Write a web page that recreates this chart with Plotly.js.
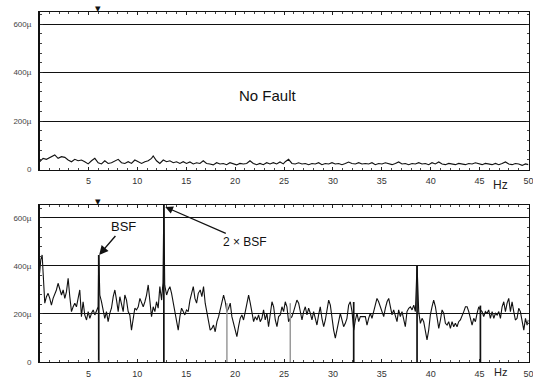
<!DOCTYPE html>
<html>
<head>
<meta charset="utf-8">
<script src="https://cdn.plot.ly/plotly-3.0.1.min.js"></script>
<style>html,body{margin:0;padding:0;background:#fff;}#chart{width:533px;height:379px;}</style>
</head>
<body>
<div id="chart"></div>
<script>
// ---- Tick labels ----
const xTickVals = [5,10,15,20,25,30,35,40,45,50];
const xTickText = ['5','10','15','20','25','30','35','40','45','50'];
const yTickVals = [0,200,400,600];
const yTickText = ['0','200µ','400µ','600µ'];

// ---- Top panel: "No Fault" spectrum (Hz, amplitude in µ) ----
const topHz = [0.00,0.36,0.70,1.21,1.55,1.89,2.24,2.58,2.92,3.26,3.60,3.94,4.28,4.62,4.97,5.31,5.65,5.99,6.33,6.67,7.01,7.35,7.70,8.04,8.38,8.72,9.06,9.40,9.74,10.09,10.43,10.77,11.11,11.45,11.62,11.96,12.30,12.65,12.99,13.33,13.67,14.01,14.35,14.69,15.03,15.38,15.72,16.06,16.40,16.74,17.08,17.42,17.76,18.11,18.45,18.79,19.13,19.47,19.81,20.15,20.49,20.84,21.18,21.52,21.86,22.20,22.54,22.88,23.23,23.57,23.91,24.25,24.59,24.93,25.13,25.47,25.81,26.15,26.49,26.84,27.18,27.52,27.86,28.20,28.54,28.88,29.22,29.57,29.91,30.25,30.59,30.93,31.27,31.61,31.95,32.30,32.64,32.98,33.32,33.66,34.00,34.34,34.68,35.02,35.37,35.71,36.05,36.39,36.73,37.07,37.41,37.75,38.10,38.44,38.78,39.12,39.46,39.80,40.14,40.48,40.83,41.17,41.51,41.85,42.19,42.53,42.87,43.21,43.55,43.90,44.24,44.58,44.92,45.26,45.60,45.94,46.28,46.63,46.97,47.31,47.65,47.99,48.33,48.67,49.01,49.36,49.70,50.00];
const topAmp = [32,46,42,53,60,46,53,50,39,32,42,36,39,32,23,36,46,28,23,36,25,28,36,42,28,25,32,25,39,32,25,32,36,46,56,36,25,39,32,36,28,32,25,32,25,31,23,28,25,36,25,23,19,28,23,25,20,28,23,19,25,23,25,36,25,20,25,20,28,23,28,23,31,23,32,42,25,23,28,23,25,20,25,23,28,20,25,23,28,23,25,20,25,31,25,23,28,23,25,23,28,20,25,23,28,23,20,25,31,23,25,20,25,23,28,23,25,20,28,23,31,23,20,25,23,20,25,23,20,25,23,28,23,20,25,23,20,25,20,25,31,23,20,25,23,17,23,20];

// ---- Bottom panel: faulty bearing spectrum (Hz, amplitude in µ) ----
const botHz = [0.00,0.12,0.26,0.36,0.53,0.70,0.87,1.04,1.21,1.38,1.55,1.72,1.89,2.06,2.24,2.41,2.58,2.75,2.92,3.09,3.26,3.43,3.60,3.77,3.94,4.11,4.28,4.45,4.62,4.80,4.97,5.14,5.31,5.48,5.65,5.82,5.99,6.05,6.16,6.33,6.50,6.67,6.84,7.01,7.18,7.35,7.53,7.70,7.87,8.04,8.21,8.38,8.55,8.72,8.89,9.06,9.23,9.40,9.57,9.74,9.91,10.09,10.26,10.43,10.60,10.77,10.94,11.11,11.28,11.45,11.62,11.79,11.96,12.13,12.30,12.48,12.62,12.71,12.80,12.99,13.16,13.33,13.50,13.67,13.84,14.01,14.18,14.35,14.52,14.69,14.86,15.03,15.20,15.38,15.55,15.72,15.89,16.06,16.23,
16.43,16.60,16.77,16.94,17.11,17.28,17.45,17.62,17.79,17.96,18.14,18.31,18.48,18.65,18.82,18.99,19.16,19.33,19.50,19.67,19.84,20.01,20.18,20.35,20.52,20.69,20.86,21.04,21.21,21.38,21.55,21.72,21.89,22.06,22.23,22.40,22.57,22.74,22.91,23.08,23.25,23.42,23.60,23.77,23.94,24.11,24.28,24.45,24.62,24.79,24.96,25.13,25.30,25.47,25.64,25.81,25.98,26.15,26.32,26.50,26.67,26.84,27.01,27.18,27.35,27.52,27.69,27.86,28.03,28.20,28.37,28.54,28.71,28.88,29.06,29.23,29.40,29.57,29.74,29.91,30.08,30.25,30.42,30.59,30.76,30.93,31.10,31.27,31.44,31.61,31.78,31.96,32.13,32.30,32.47,32.64,32.81,
33.32,33.49,33.66,33.83,34.00,34.17,34.34,34.51,34.68,34.86,35.03,35.20,35.37,35.54,35.71,35.88,36.05,36.22,36.39,36.56,36.73,36.90,37.07,37.24,37.41,37.58,37.76,37.93,38.10,38.27,38.44,38.61,38.78,38.95,39.12,39.29,39.46,39.63,39.80,39.97,40.14,40.31,40.49,40.66,40.83,41.00,41.17,41.34,41.51,41.68,41.85,42.02,42.19,42.36,42.53,42.70,42.87,43.04,43.21,43.39,43.56,43.73,43.90,44.07,44.24,44.41,44.58,44.75,44.92,45.09,45.26,45.43,45.60,45.77,45.94,46.11,46.29,46.46,46.63,46.80,46.97,47.14,47.31,47.48,47.65,47.82,47.99,48.16,48.33,48.50,48.67,48.84,49.01,49.18,49.36,49.53,49.70,49.87,50.00];
const botAmp = [370,425,446,355,245,272,286,265,237,265,280,300,328,300,279,300,265,293,349,272,210,230,245,230,265,300,189,251,196,175,210,182,203,217,196,210,230,446,279,251,210,182,210,168,203,224,272,300,258,210,272,245,210,279,258,210,196,133,189,224,217,230,265,251,230,251,279,321,258,189,230,210,251,224,314,258,330,655,320,279,300,314,286,245,210,168,133,189,224,210,196,217,210,258,293,314,265,245,286,
300,272,314,245,203,168,133,140,154,126,168,189,224,251,279,251,210,224,245,189,161,133,106,147,182,196,175,210,251,279,245,196,168,189,175,196,168,182,217,175,203,147,210,251,230,175,147,189,196,230,210,251,230,168,182,189,210,237,258,245,210,175,210,230,196,224,203,175,210,175,154,196,230,182,147,175,217,258,237,175,133,99,133,175,203,175,147,161,182,237,251,210,133,175,203,168,189,
189,154,182,203,182,210,230,265,251,230,210,189,224,251,265,230,196,217,189,168,217,189,210,175,147,210,224,230,217,237,210,404,210,161,182,168,126,92,133,196,230,258,230,175,140,175,217,203,161,154,168,140,168,147,161,147,168,175,189,210,230,230,210,175,154,182,168,203,230,217,210,189,210,203,217,182,210,182,203,196,210,182,230,251,210,245,265,210,251,210,175,182,224,210,168,133,182,154,175];

// ---- Harmonic marker lines (multiples of BSF) ----
const harmonicHz = [6.05,12.71,19.16,25.64,32.13,38.61,45.09];
const harmonicAmp = [446,655,245,245,250,404,235];
const harmonicGray = [false,false,true,true,false,false,false];

// ---- Cursor marker above each panel ----
const cursorHz = 5.96;

function dropLines(sel){
  const xs=[], ys=[];
  harmonicHz.forEach((h,i)=>{ if(harmonicGray[i]===sel){ xs.push(h,h,null); ys.push(0,harmonicAmp[i],null);} });
  return {xs, ys};
}
const blackDrops = dropLines(false), grayDrops = dropLines(true);

const traces = [
  {x: topHz, y: topAmp, xaxis:'x', yaxis:'y', mode:'lines', line:{color:'#111', width:1.1}, hoverinfo:'skip'},
  {x: botHz, y: botAmp, xaxis:'x2', yaxis:'y2', mode:'lines', line:{color:'#111', width:1.1}, hoverinfo:'skip'},
  {x: grayDrops.xs, y: grayDrops.ys, xaxis:'x2', yaxis:'y2', mode:'lines', line:{color:'#9a9a9a', width:1.5}, hoverinfo:'skip'},
  {x: blackDrops.xs, y: blackDrops.ys, xaxis:'x2', yaxis:'y2', mode:'lines', line:{color:'#111', width:1.7}, hoverinfo:'skip'}
];

const W=533, H=379;
const xDom = [39.5/W, 528.5/W];
function xAxis(anchor){
  return {domain: xDom, range:[-0.01,50.01], anchor: anchor, tickmode:'array', tickvals: xTickVals, ticktext: xTickText,
    ticks:'inside', ticklen:3, tickwidth:1, tickcolor:'#222', showline:true, linecolor:'#111', linewidth:1,
    mirror:'allticks', showgrid:false, zeroline:false, ticklabelstandoff:3, ticklabeloverflow:'allow',
    tickfont:{family:'Liberation Sans, Arial, sans-serif', size:9, color:'#333'},
    minor:{tickmode:'linear', tick0:0, dtick:1, ticks:'inside', ticklen:2, tickcolor:'#444', showgrid:false}};
}
function yAxis(anchor, dom, top){
  return {domain: dom, range:[0, top], anchor: anchor, tickmode:'array', tickvals: yTickVals, ticktext: yTickText,
    ticks:'inside', ticklen:3, tickcolor:'#222', showline:true, linecolor:'#111', linewidth:1.5,
    mirror:'ticks', showgrid:true, gridcolor:'#111', gridwidth:1, zeroline:false, ticklabelstandoff:5,
    tickfont:{family:'Liberation Sans, Arial, sans-serif', size:8, color:'#444'},
    minor:{tickmode:'linear', tick0:0, dtick:40, ticks:'inside', ticklen:2, tickcolor:'#444', showgrid:false}};
}

const layout = {
  width:W, height:H, margin:{l:0,r:0,t:0,b:0},
  paper_bgcolor:'#ffffff', plot_bgcolor:'#ffffff', showlegend:false,
  font:{family:'Liberation Sans, Arial, sans-serif', color:'#222', size:8},
  xaxis: xAxis('y'),
  yaxis: yAxis('x', [1-169.5/H, 1-11.9/H], 650),
  xaxis2: xAxis('y2'),
  yaxis2: yAxis('x2', [1-362/H, 1-205/H], 654),
  annotations: [
    {text:'No Fault', xref:'x', yref:'y', x:23.4, y:307, showarrow:false, font:{size:15, color:'#111'}},
    {text:'Hz', xref:'paper', yref:'paper', x:500.5/W, y:1-185/H, xanchor:'center', yanchor:'middle', showarrow:false, font:{size:12, color:'#222'}},
    {text:'Hz', xref:'paper', yref:'paper', x:500.5/W, y:1-372/H, xanchor:'center', yanchor:'middle', showarrow:false, font:{size:11, color:'#222'}},
    {text:'▾', xref:'x', yref:'paper', x:cursorHz, y:1-8/H, xanchor:'center', yanchor:'middle', showarrow:false, font:{size:11, color:'#111'}},
    {text:'▾', xref:'x2', yref:'paper', x:cursorHz, y:1-201/H, xanchor:'center', yanchor:'middle', showarrow:false, font:{size:11, color:'#111'}},
    {text:'BSF', xref:'x2', yref:'y2', x:6.09, y:446, ax:24, ay:-28, showarrow:true, arrowhead:2, arrowsize:1.3, arrowwidth:1.4, arrowcolor:'#111', font:{size:13, color:'#111'}},
    {text:'2 × BSF', xref:'x2', yref:'y2', x:12.85, y:646, ax:80, ay:35, showarrow:true, arrowhead:2, arrowsize:1.3, arrowwidth:1.2, arrowcolor:'#111', font:{size:12, color:'#111'}}
  ]
};

Plotly.newPlot('chart', traces, layout, {staticPlot:true, displayModeBar:false});
</script>
</body>
</html>
